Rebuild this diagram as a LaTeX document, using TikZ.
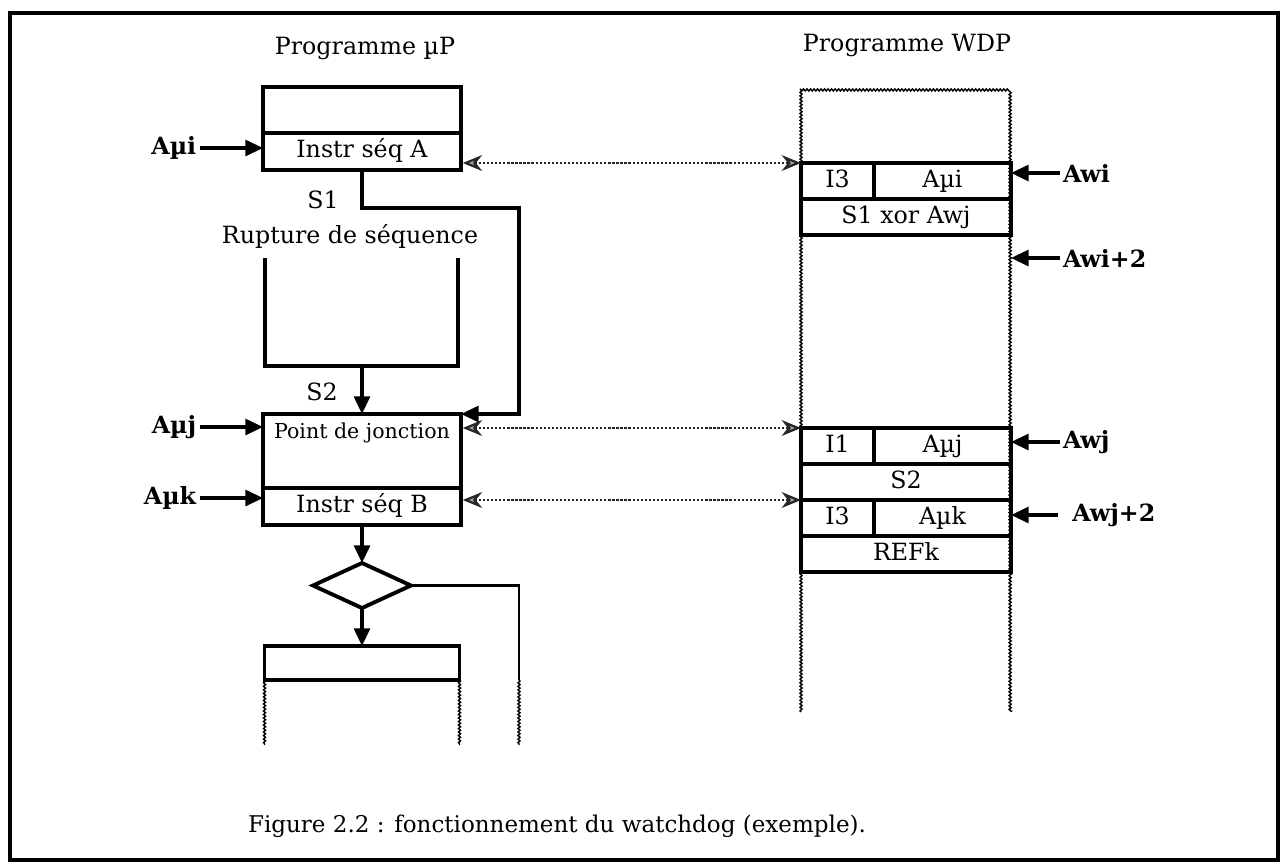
\documentclass[tikz,border=0pt]{standalone}
\usepackage{fontspec}
\setmainfont{DejaVu Serif}
\usetikzlibrary{arrows.meta,shapes.geometric,decorations.pathmorphing}

\begin{document}
\begin{tikzpicture}[x=0.02cm, y=-0.02cm,
  font=\fontsize{13.5}{16}\selectfont,
  box/.style={draw, line width=1.8pt, rectangle, inner sep=0pt, outer sep=0pt,
    text height=10pt, text depth=3pt},
  flow/.style={line width=1.8pt, -{Triangle[length=10pt,width=9pt]}},
  addr/.style={font=\fontsize{13.5}{16}\selectfont\bfseries},
  wavy/.style={line width=0.8pt, decorate,
    decoration={snake, amplitude=0.6pt, segment length=2pt}},
  link/.style={densely dotted, line width=1.3pt, black!85,
    {Stealth[length=11pt,width=9pt,fill=gray!65]}-{Stealth[length=11pt,width=9pt,fill=gray!65]}}
]
\useasboundingbox (0,0) rectangle (1288,863);

% Frame
\draw[line width=2.3pt] (10,13) rectangle (1278,860);

% Programme uP
\node (uptitle) at (365,48) {Programme µP};
\node[box, minimum width=3.96cm, minimum height=0.92cm] (progA) at (362,110) {};
\node[box, minimum width=3.96cm, minimum height=0.74cm] (instrA) at (362,151.5) {Instr séq A};

% Rupture de sequence
\node (s1) at (323,200) {S1};
\node (rupt) at (350,236) {Rupture de séquence};
\draw[line width=1.8pt] (265,258) -- (265,366) -- (458,366) -- (458,258);
\coordinate (ubot) at (362,366);
\coordinate (s1turn) at (519,208);
\node (s2) at (322,392) {S2};

\node[box, minimum width=3.96cm, minimum height=1.48cm] (jonc) at (362,451) {};
\node[font=\fontsize{11.7}{14}\selectfont] (jonctxt) at (362,433) {Point de jonction};
\node[box, minimum width=3.96cm, minimum height=0.74cm] (instrB) at (362,506.5) {Instr séq B};
\node[draw, diamond, line width=2.2pt, inner sep=0pt, outer sep=0pt,
  minimum width=1.96cm, minimum height=0.9cm] (dec) at (362,585.5) {};
\node[box, minimum width=3.9cm, minimum height=0.68cm] (boxC) at (362,663) {};
\coordinate (branch) at (519,680);

\draw[flow] (ubot) -- (jonc.north);
\draw[flow] (instrA.south) |- (s1turn) |- (jonc.north east);
\draw[flow] (instrB.south) -- (dec.north);
\draw[flow] (dec.south) -- (boxC.north);
\draw[line width=1.2pt] (dec.east) -| (branch);

% Suite du programme
\draw[wavy] (boxC.south west) -- ++(0,65);
\draw[wavy] (boxC.south east) -- ++(0,65);
\draw[wavy] (branch) -- ++(0,65);

% Adresses uP
\node[addr, anchor=east, inner xsep=2pt] (ami) at (200,148) {Aµi};
\node[addr, anchor=east, inner xsep=2pt] (amj) at (200,427) {Aµj};
\node[addr, anchor=east, inner xsep=2pt] (amk) at (200,498) {Aµk};
\draw[flow] (ami.east) -- (instrA.west |- ami.east);
\draw[flow] (amj.east) -- (jonc.west |- amj.east);
\draw[flow] (amk.east) -- (instrB.west |- amk.east);

% Programme WDP
\node (wdptitle) at (907,45) {Programme WDP};
\node[minimum width=4.2cm, minimum height=12.44cm, inner sep=0pt, outer sep=0pt] (wdp) at (906,401) {};
\draw[wavy] (wdp.south west) -- (wdp.north west) -- (wdp.north east) -- (wdp.south east);

\node[box, minimum width=1.46cm, minimum height=0.72cm] (opi) at (837.5,181) {I3};
\node[box, minimum width=2.74cm, minimum height=0.72cm] (adi) at (942.5,181) {Aµi};
\node[box, minimum width=4.2cm, minimum height=0.72cm] (xori) at (906,217) {S1 xor Awj};

\node[box, minimum width=1.46cm, minimum height=0.72cm] (opj) at (837.5,446) {I1};
\node[box, minimum width=2.74cm, minimum height=0.72cm] (adj) at (942.5,446) {Aµj};
\node[box, minimum width=4.2cm, minimum height=0.72cm] (s2j) at (906,482) {S2};
\node[box, minimum width=1.46cm, minimum height=0.72cm] (opk) at (837.5,518) {I3};
\node[box, minimum width=2.74cm, minimum height=0.72cm] (adk) at (942.5,518) {Aµk};
\node[box, minimum width=4.2cm, minimum height=0.72cm] (refk) at (906,554) {REFk};

% Adresses WDP
\node[addr, anchor=west, inner xsep=1.5pt] (awi) at (1060,173) {Awi};
\node[addr, anchor=west, inner xsep=1.5pt] (awii) at (1060,258) {Awi+2};
\node[addr, anchor=west, inner xsep=1.5pt] (awj) at (1060,442) {Awj};
\node[addr, anchor=west, inner xsep=8pt] (awjj) at (1058,515) {Awj+2};
\draw[flow] (awi.west) -- (awi.west -| wdp.east);
\draw[flow] (awii.west) -- (awii.west -| wdp.east);
\draw[flow] (awj.west) -- (awj.west -| wdp.east);
\draw[flow] (awjj.west) -- (awjj.west -| wdp.east);

% Liens uP <-> WDP
\draw[link, shorten <=1pt] (instrA.east |- opi.north west) -- (opi.north west);
\draw[link, shorten <=1pt] (jonc.east |- opj.north west) -- (opj.north west);
\draw[link, shorten <=1pt] (instrB.east |- opk.north west) -- (opk.north west);

% Legende
\node[font=\fontsize{13.1}{16}\selectfont] (cap) at (557,826) {Figure 2.2 : fonctionnement du watchdog (exemple).};

\end{tikzpicture}
\end{document}
